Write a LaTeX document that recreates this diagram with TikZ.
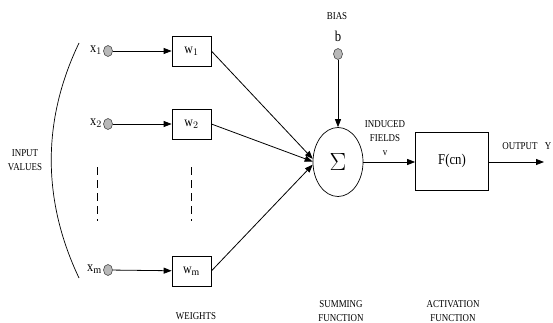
\documentclass[tikz,border=0pt]{standalone}
\usepackage{fontspec}
\setmainfont{Liberation Serif}
\newfontfamily\condfont[FakeStretch=0.85]{Liberation Serif}
\usetikzlibrary{arrows.meta,shapes.geometric}
\begin{document}
\begin{tikzpicture}[x=1pt,y=-1pt,
  lbl/.style={font=\condfont\fontsize{10.5}{14}\selectfont, align=center, inner sep=0pt},
  sym/.style={font=\condfont\fontsize{14.5}{16}\selectfont, inner sep=0pt},
  dot/.style={ellipse, minimum width=9pt, minimum height=11pt, inner sep=0pt, fill=black!28, draw=black!75, line width=0.6pt},
  wbox/.style={draw, minimum width=39pt, minimum height=30pt, inner sep=0pt, line width=0.7pt, font=\condfont\fontsize{14}{16}\selectfont},
  arr/.style={-{Triangle[length=8pt,width=6pt]}, line width=0.8pt},
  ln/.style={line width=0.7pt}]
\useasboundingbox (0,0) rectangle (553,323);
% inputs
\node[dot] (x1) at (108,51) {};
\node[dot] (x2) at (108,124) {};
\node[dot] (xm) at (108,270) {};
\node[sym, anchor=east] (lx1) at (102,50) {x$_1$};
\node[sym, anchor=east] (lx2) at (102,123) {x$_2$};
\node[sym, anchor=east] (lxm) at (102,269) {x$_{\mathrm{m}}$};
% weights
\node[wbox] (w1) at (191.5,51) {w$_1$};
\node[wbox] (w2) at (191.5,124) {w$_2$};
\node[wbox] (wm) at (191.5,271) {w$_{\mathrm{m}}$};
\draw[arr] (x1) -- (w1);
\draw[arr] (x2) -- (w2);
\draw[arr] (xm) -- (wm);
% dashes
\coordinate (d1a) at (97,167); \coordinate (d1b) at (97,221);
\coordinate (d2a) at (191,167); \coordinate (d2b) at (191,221);
\draw[line width=0.6pt, dash pattern=on 8pt off 5pt] (d1a) -- (d1b);
\draw[line width=0.6pt, dash pattern=on 8pt off 5pt] (d2a) -- (d2b);
% arc
\coordinate (arcA) at (79,43); \coordinate (arcB) at (79,278);
\draw[ln] (arcA) .. controls (42,120) and (42,200) .. (arcB);
\node[lbl] (iv) at (25,160) {INPUT\\VALUES};
% sum
\node[ellipse, draw, line width=0.7pt, minimum width=50pt, minimum height=69pt, inner sep=0pt] (sum) at (338,162) {\fontsize{30}{32}\selectfont$\Sigma$};
\draw[arr] (w1.east) -- (sum.173);
\draw[arr] (w2.east) -- (sum.179);
\draw[arr] (wm.east) -- (sum.186);
% bias
\node[dot] (b) at (338,54) {};
\node[font=\condfont\fontsize{15}{17}\selectfont, inner sep=0pt] (lb) at (338,36) {b};
\node[lbl] (bias) at (337,16) {BIAS};
\draw[arr] (b) -- (sum);
% activation
\node[draw, line width=0.7pt, minimum width=73pt, minimum height=58pt, inner sep=0pt, font=\condfont\fontsize{15}{17}\selectfont] (F) at (452,161) {F(cn)};
\draw[arr] (sum.east) -- (F.west |- sum.east);
\node[lbl] (ind) at (385,138) {INDUCED\\FIELDS\\v};
\coordinate (out) at (544,162);
\draw[arr] (F.east |- out) -- (out);
\node[lbl] (outl) at (520,146) {OUTPUT};
\node[lbl] (yl) at (548,146) {Y};
% bottom labels
\node[lbl] (wt) at (196,316) {WEIGHTS};
\node[lbl] (sf) at (341,311) {SUMMING\\FUNCTION};
\node[lbl] (af) at (453,311) {ACTIVATION\\FUNCTION};
\end{tikzpicture}
\end{document}
